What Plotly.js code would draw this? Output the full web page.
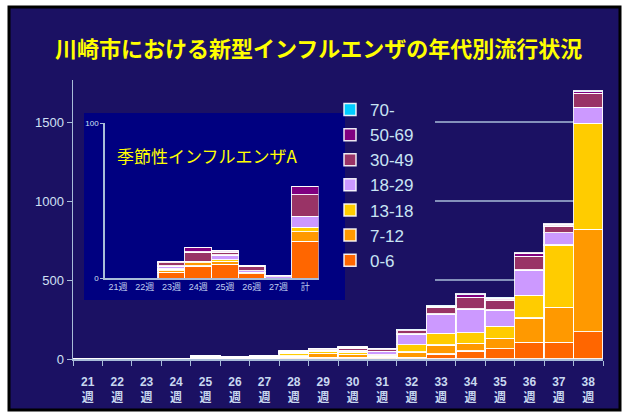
<!DOCTYPE html>
<html>
<head>
<meta charset="utf-8">
<script src="https://cdn.plot.ly/plotly-3.0.1.min.js"></script>
<style>
  body { margin: 0; background: #fff; }
  #chart { width: 628px; height: 415px; }
</style>
</head>
<body>
<div id="chart"></div>
<script>
// 新型インフルエンザ 週別・年代別
const weeks = ['21','22','23','24','25','26','27','28','29','30','31','32','33','34','35','36','37','38'];
const a0_6   = [0,0,0,0,5,4,5,10,10,10,10,11,32,51,65,106,106,173];
const a7_12  = [0,0,0,0,5,4,5,10,25,20,10,33,57,48,66,152,221,648];
const a13_18 = [0,0,0,0,8,5,6,15,15,15,8,47,74,68,76,145,395,671];
const a18_29 = [0,0,0,0,3,2,4,8,8,10,20,67,122,151,103,160,78,101];
const a30_49 = [0,0,0,0,2,2,3,5,8,15,12,21,42,72,63,87,42,89];
const a50_69 = [0,0,0,0,0,0,0,2,2,5,5,7,10,17,14,19,10,10];
const a70    = [0,0,0,0,0,0,0,0,0,0,0,2,3,4,3,4,3,3];

// 季節性インフルエンザA (inset)
const sWeeks = ['21週','22週','23週','24週','25週','26週','27週','計'];
const s0_6   = [0,0,4,8,9,3,0,24];
const s7_12  = [0,0,1,2,2,1,0,6];
const s13_18 = [0,0,1,1,1,0,0,3];
const s18_29 = [0,0,2,0,3,1,1,7];
const s30_49 = [0,0,2,6,2,3,1,14];
const s50_69 = [0,0,1,3,1,0,0,5];
const s70    = [0,0,0,0,0,0,0,0];

const groups = ['0-6','7-12','13-18','18-29','30-49','50-69','70-'];
const colors = ['#ff6600','#ff9900','#ffcc00','#cc99ff','#993366','#800080','#00ccff'];
const mainVals = [a0_6,a7_12,a13_18,a18_29,a30_49,a50_69,a70];
const insetVals = [s0_6,s7_12,s13_18,s18_29,s30_49,s50_69,s70];

const W = 628, H = 415;
const px = v => v / W;
const py = v => 1 - v / H;

const traces = [];
groups.forEach((g, i) => {
  traces.push({
    type: 'bar', x: weeks, y: mainVals[i], name: g,
    marker: {color: colors[i], line: {color: 'rgba(255,255,255,0.9)', width: 1.5}},
    xaxis: 'x', yaxis: 'y', hoverinfo: 'skip'
  });
});
groups.forEach((g, i) => {
  traces.push({
    type: 'bar', x: sWeeks, y: insetVals[i], name: g, showlegend: false,
    marker: {color: colors[i], line: {color: 'rgba(255,255,255,0.9)', width: 1.2}},
    xaxis: 'x2', yaxis: 'y2', hoverinfo: 'skip'
  });
});

const axCol = '#a8bcd8';
const txtCol = '#d0e0f4';

const layout = {
  width: W, height: H,
  margin: {l: 0, r: 0, t: 0, b: 0},
  paper_bgcolor: '#ffffff',
  plot_bgcolor: 'rgba(0,0,0,0)',
  barmode: 'stack', bargap: 0,
  showlegend: true,
  legend: {
    x: px(330), y: py(92), xanchor: 'left', yanchor: 'top',
    traceorder: 'reversed', bgcolor: 'rgba(0,0,0,0)',
    font: {family: 'Liberation Sans, Arial, sans-serif', size: 17, color: '#c8e4f4'}
  },
  xaxis: {
    domain: [px(73), px(603)], anchor: 'y', type: 'category', range: [-0.5, 17.5],
    tickvals: weeks, ticktext: weeks.map(w => w + '<br>週'),
    showline: true, linecolor: axCol, linewidth: 1.5,
    ticks: 'outside', tickson: 'boundaries', ticklen: 5, tickcolor: axCol,
    ticklabelstandoff: 11,
    tickfont: {family: 'Liberation Sans, Noto Sans CJK JP, sans-serif', size: 12, color: '#c8d8f0', weight: 'bold'},
    showgrid: false, zeroline: false, fixedrange: true
  },
  yaxis: {
    domain: [py(359), py(80)], anchor: 'x', range: [0, 1766],
    tickvals: [0, 500, 1000, 1500],
    showline: true, linecolor: axCol, linewidth: 1.5,
    ticks: 'outside', ticklen: 5, tickcolor: axCol,
    tickfont: {family: 'Liberation Sans, Arial, sans-serif', size: 13, color: txtCol},
    showgrid: false, zeroline: false, fixedrange: true
  },
  xaxis2: {
    domain: [px(104.5), px(318.5)], anchor: 'y2', type: 'category', range: [-0.5, 7.5],
    showline: true, linecolor: axCol, linewidth: 1.2, ticks: '',
    tickfont: {family: 'Liberation Sans, Noto Sans CJK JP, sans-serif', size: 9, color: '#c0d0f0'},
    showgrid: false, zeroline: false, fixedrange: true
  },
  yaxis2: {
    domain: [py(278.3), py(123.3)], anchor: 'x2', range: [0, 100],
    tickvals: [0, 100],
    showline: true, linecolor: axCol, linewidth: 1.2,
    ticks: 'outside', ticklen: 3, tickcolor: axCol,
    tickfont: {family: 'Liberation Sans, Arial, sans-serif', size: 8, color: txtCol},
    showgrid: true, gridcolor: axCol, gridwidth: 1.2, zeroline: false, fixedrange: true
  },
  shapes: [
    {type: 'rect', xref: 'paper', yref: 'paper', x0: px(9), x1: px(620), y0: py(410), y1: py(7),
     fillcolor: '#1b1163', line: {color: '#000000', width: 3}, layer: 'below'},
    {type: 'rect', xref: 'paper', yref: 'paper', x0: px(84), x1: px(345), y0: py(300), y1: py(113),
     fillcolor: '#000080', line: {width: 0}, layer: 'below'},
    ...[500, 1000, 1500].map(v => ({
      type: 'line', xref: 'paper', yref: 'y', x0: px(435), x1: px(603), y0: v, y1: v,
      line: {color: axCol, width: 1.5}, layer: 'below'
    }))
  ],
  annotations: [
    {text: '川崎市における新型インフルエンザの年代別流行状況', xref: 'paper', yref: 'paper',
     x: px(318), y: py(47), xanchor: 'center', yanchor: 'middle', showarrow: false,
     font: {family: 'Noto Sans CJK JP, sans-serif', size: 22, color: '#ffff00', weight: 'bold'}},
    {text: '季節性インフルエンザA', xref: 'paper', yref: 'paper',
     x: px(115), y: py(155), xanchor: 'left', yanchor: 'middle', showarrow: false,
     font: {family: 'Noto Sans CJK JP, sans-serif', size: 17, color: '#ffff00'}}
  ]
};

Plotly.newPlot('chart', traces, layout, {displayModeBar: false, staticPlot: true});
</script>
</body>
</html>
